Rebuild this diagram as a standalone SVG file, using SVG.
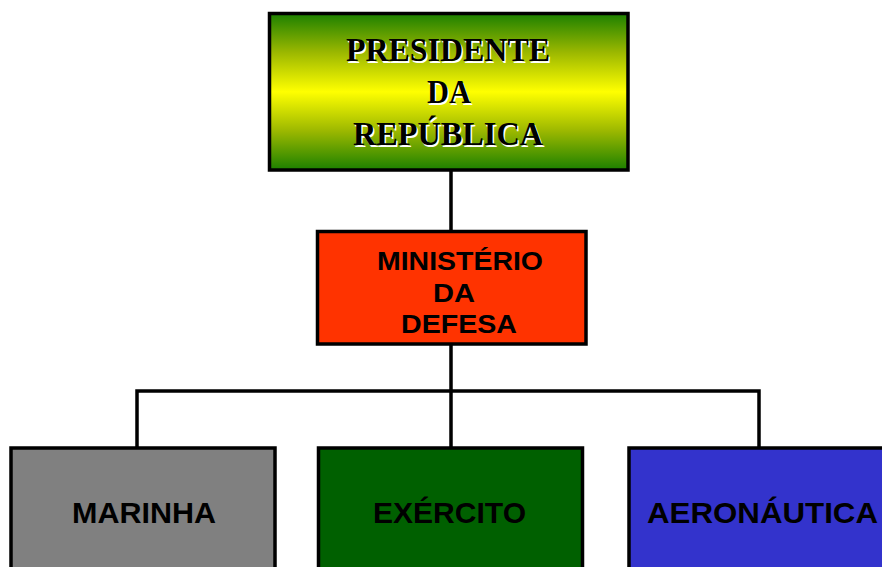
<svg xmlns="http://www.w3.org/2000/svg" width="882" height="567" viewBox="0 0 882 567">
<defs>
<linearGradient id="brz" x1="0" y1="0" x2="0" y2="1">
<stop offset="0" stop-color="#1c8000"/>
<stop offset="0.25" stop-color="#9cb800"/>
<stop offset="0.5" stop-color="#ffff00"/>
<stop offset="0.75" stop-color="#9cb800"/>
<stop offset="1" stop-color="#1c8000"/>
</linearGradient>
</defs>
<style>
.box{stroke:#000;stroke-width:3.5}
.conn{fill:none;stroke:#000;stroke-width:3.5}
.tb{font-family:"Liberation Serif","Times New Roman",serif;font-weight:bold;font-size:33px}
.sh{fill:#fff}
.ab{font-family:"Liberation Sans",Arial,sans-serif;font-weight:bold;fill:#000}
.m{font-size:26.5px}
.b{font-size:30px}
</style>
<rect width="882" height="567" fill="#fff"/>
<g id="connectors">
<path class="conn" d="M451,171 V231 M451,344 V391 M137,448 V391 H759 V448 M451,391 V448"/>
</g>
<g id="presidente">
<rect class="box" x="269.5" y="13.5" width="358.5" height="156.5" fill="url(#brz)"/>
<g class="tb sh" transform="translate(1.5,1.5)">
<text x="346" y="61" textLength="204" lengthAdjust="spacingAndGlyphs">PRESIDENTE</text>
<text x="427" y="103" textLength="44" lengthAdjust="spacingAndGlyphs">DA</text>
<text x="353" y="145" textLength="190" lengthAdjust="spacingAndGlyphs">REPÚBLICA</text>
</g>
<g class="tb">
<text x="346" y="61" textLength="204" lengthAdjust="spacingAndGlyphs">PRESIDENTE</text>
<text x="427" y="103" textLength="44" lengthAdjust="spacingAndGlyphs">DA</text>
<text x="353" y="145" textLength="190" lengthAdjust="spacingAndGlyphs">REPÚBLICA</text>
</g>
</g>
<g id="ministerio">
<rect class="box" x="317.5" y="231.5" width="268.5" height="112.5" fill="#ff3300"/>
<text class="ab m" x="377" y="269.5" textLength="166" lengthAdjust="spacingAndGlyphs">MINISTÉRIO</text>
<text class="ab m" x="433" y="301.5" textLength="42" lengthAdjust="spacingAndGlyphs">DA</text>
<text class="ab m" x="401" y="332.5" textLength="116" lengthAdjust="spacingAndGlyphs">DEFESA</text>
</g>
<g id="marinha">
<rect class="box" x="11" y="448" width="264" height="130" fill="#808080"/>
<text class="ab b" x="72" y="522.5" textLength="144" lengthAdjust="spacingAndGlyphs">MARINHA</text>
</g>
<g id="exercito">
<rect class="box" x="318.5" y="448" width="264" height="130" fill="#006000"/>
<text class="ab b" x="373" y="522.5" textLength="153" lengthAdjust="spacingAndGlyphs">EXÉRCITO</text>
</g>
<g id="aeronautica">
<rect class="box" x="629" y="448" width="270" height="130" fill="#3333cc"/>
<text class="ab b" x="647" y="522.5" textLength="231" lengthAdjust="spacingAndGlyphs">AERONÁUTICA</text>
</g>
</svg>
